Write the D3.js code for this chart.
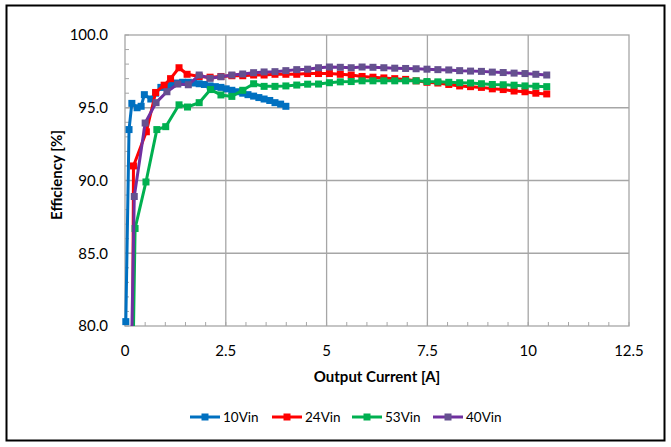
<!DOCTYPE html>
<html><head><meta charset="utf-8">
<script src="https://cdn.jsdelivr.net/npm/d3@7/dist/d3.min.js"></script>
<style>body{margin:0;background:#fff}svg{display:block}</style>
</head><body><svg id="c" width="671" height="447"></svg>
<script>
// ---- data ----
const seriesNames = ["10Vin","24Vin","53Vin","40Vin"];
const xTicks = [0, 2.5, 5, 7.5, 10, 12.5];
const xTickLabels = ["0","2.5","5","7.5","10","12.5"];
const yTicks = [80, 85, 90, 95, 100];
const yTickLabels = ["80.0","85.0","90.0","95.0","100.0"];

const x10 = [0.02,0.10,0.17,0.30,0.40,0.48,0.64,0.76,0.89,1.03,1.16,1.30,1.43,1.57,1.70,1.84,1.97,2.11,2.24,2.38,2.51,2.65,2.78,2.92,3.05,3.19,3.32,3.45,3.59,3.72,3.86,3.99];
const y10 = [80.3,93.5,95.3,95.0,95.1,95.9,95.6,96.0,96.4,96.5,96.6,96.7,96.75,96.75,96.7,96.65,96.6,96.5,96.45,96.4,96.3,96.2,96.1,96.0,95.9,95.8,95.7,95.6,95.5,95.35,95.25,95.1];

const x24 = [0.19,0.21,0.53,0.76,0.97,1.13,1.34,1.54,1.84,2.11,2.38,2.65,2.92,3.19,3.45,3.72,3.99,4.26,4.53,4.80,5.07,5.34,5.61,5.88,6.15,6.42,6.69,6.96,7.22,7.49,7.76,8.03,8.30,8.57,8.84,9.11,9.38,9.65,9.92,10.19,10.46];
const y24 = [78.0,91.0,93.35,96.05,96.55,97.0,97.75,97.3,97.15,97.1,97.15,97.2,97.2,97.25,97.25,97.3,97.3,97.3,97.35,97.35,97.35,97.3,97.25,97.15,97.1,97.05,97.0,96.95,96.85,96.75,96.7,96.6,96.5,96.45,96.4,96.3,96.25,96.15,96.1,96.0,95.95];

const x53 = [0.20,0.25,0.52,0.79,1.01,1.34,1.55,1.84,2.12,2.38,2.65,2.92,3.19,3.45,3.72,3.99,4.26,4.53,4.80,5.07,5.34,5.61,5.88,6.15,6.42,6.69,6.96,7.22,7.49,7.76,8.03,8.30,8.57,8.84,9.11,9.38,9.65,9.92,10.19,10.46];
const y53 = [78.0,86.7,89.9,93.5,93.7,95.2,95.05,95.35,96.25,95.88,95.78,96.2,96.65,96.47,96.47,96.5,96.56,96.62,96.63,96.72,96.78,96.8,96.85,96.85,96.85,96.85,96.85,96.85,96.8,96.78,96.75,96.72,96.7,96.65,96.6,96.58,96.55,96.5,96.48,96.45];

const x40 = [0.16,0.23,0.50,0.77,1.04,1.31,1.57,1.84,2.11,2.38,2.65,2.92,3.19,3.45,3.72,3.99,4.26,4.53,4.80,5.07,5.34,5.61,5.88,6.15,6.42,6.69,6.96,7.22,7.49,7.76,8.03,8.30,8.57,8.84,9.11,9.38,9.65,9.92,10.19,10.46];
const y40 = [78.0,88.9,93.95,95.35,96.1,96.63,96.58,97.25,97.02,97.13,97.25,97.32,97.41,97.46,97.48,97.55,97.62,97.65,97.75,97.8,97.78,97.75,97.8,97.78,97.75,97.72,97.7,97.68,97.65,97.62,97.6,97.55,97.52,97.5,97.45,97.42,97.38,97.35,97.3,97.25];

const lineColors = ["#0070C0","#FF0000","#00B050","#7030A0"];
const markColors = ["#0070C0","#FF0000","#00B050","#65508F"];
const xsAll = [x10,x24,x53,x40];
const ysAll = [y10,y24,y53,y40];

// ---- layout ----
const svg = d3.select("#c");
const L = 125, R = 629, T = 35, B = 326;
const x = d3.scaleLinear().domain([0,12.5]).range([L,R]);
const y = d3.scaleLinear().domain([80,100]).range([B,T]);
const font = "Lato, 'Open Sans', sans-serif";
const grid = "#a6a6a6";

svg.append("rect").attr("x",6.5).attr("y",5.5).attr("width",658).attr("height",435)
  .attr("fill","none").attr("stroke","#000").attr("stroke-width",2);

// gridlines
svg.append("g").selectAll("line").data(yTicks.slice(1,-1)).join("line")
  .attr("x1",L).attr("x2",R).attr("y1",d=>y(d)).attr("y2",d=>y(d))
  .attr("stroke",grid).attr("stroke-width",1.3);
svg.append("g").selectAll("line").data(xTicks.slice(1,-1)).join("line")
  .attr("y1",T).attr("y2",B).attr("x1",d=>x(d)).attr("x2",d=>x(d))
  .attr("stroke",grid).attr("stroke-width",1.3);

// minor ticks
const xMinor = d3.range(0,12.51,0.5);
const yMinor = d3.range(80,100.01,1);
svg.append("g").selectAll("line").data(xMinor).join("line")
  .attr("x1",d=>x(d)).attr("x2",d=>x(d)).attr("y1",B).attr("y2",B-4)
  .attr("stroke",grid).attr("stroke-width",1);
svg.append("g").selectAll("line").data(yMinor).join("line")
  .attr("x1",L).attr("x2",L+4).attr("y1",d=>y(d)).attr("y2",d=>y(d))
  .attr("stroke",grid).attr("stroke-width",1);

svg.append("rect").attr("x",L).attr("y",T).attr("width",R-L).attr("height",B-T)
  .attr("fill","none").attr("stroke",grid).attr("stroke-width",1.3);

// tick labels
svg.append("g").selectAll("text").data(yTicks).join("text")
  .attr("x",108).attr("y",d=>y(d)).attr("dy","0.36em").attr("text-anchor","end")
  .attr("font-family",font).attr("font-size",15).attr("fill","#000")
  .text((d,i)=>yTickLabels[i]);
svg.append("g").selectAll("text").data(xTicks).join("text")
  .attr("x",d=>x(d)).attr("y",356).attr("text-anchor","middle")
  .attr("font-family",font).attr("font-size",15).attr("fill","#000")
  .text((d,i)=>xTickLabels[i]);

// axis titles
svg.append("text").attr("x",377).attr("y",382).attr("text-anchor","middle")
  .attr("font-family",font).attr("font-size",15).attr("font-weight","bold")
  .text("Output Current [A]");
svg.append("text").attr("transform","translate(62,175) rotate(-90)").attr("text-anchor","middle")
  .attr("font-family",font).attr("font-size",15).attr("font-weight","bold")
  .text("Efficiency [%]");

// clip
svg.append("clipPath").attr("id","pc").append("rect")
  .attr("x",L-6).attr("y",T-6).attr("width",R-L+12).attr("height",B-T+6);

const plot = svg.append("g").attr("clip-path","url(#pc)");
const line = d3.line().x(d=>x(d[0])).y(d=>y(d[1]));
[0,1,2,3].forEach(i=>{
  const pts = xsAll[i].map((v,j)=>[v, ysAll[i][j]]);
  const g = plot.append("g");
  g.append("path").datum(pts).attr("d",line).attr("fill","none")
    .attr("stroke",lineColors[i]).attr("stroke-width",3).attr("stroke-linejoin","round");
  g.selectAll("rect").data(pts.filter(p=>p[1]>=80)).join("rect")
    .attr("x",d=>x(d[0])-3.5).attr("y",d=>y(d[1])-3.5).attr("width",7).attr("height",7)
    .attr("fill",markColors[i]);
});

// legend
const legX = [190, 272, 352, 433];
const legY = 417;
seriesNames.forEach((n,i)=>{
  const g = svg.append("g");
  g.append("line").attr("x1",legX[i]).attr("x2",legX[i]+30).attr("y1",legY).attr("y2",legY)
    .attr("stroke",lineColors[i]).attr("stroke-width",3);
  g.append("rect").attr("x",legX[i]+15-3.5).attr("y",legY-3.5).attr("width",7).attr("height",7)
    .attr("fill",markColors[i]);
  g.append("text").attr("x",legX[i]+33).attr("y",legY).attr("dy","0.36em")
    .attr("font-family",font).attr("font-size",13.5).text(n);
});
</script></body></html>
